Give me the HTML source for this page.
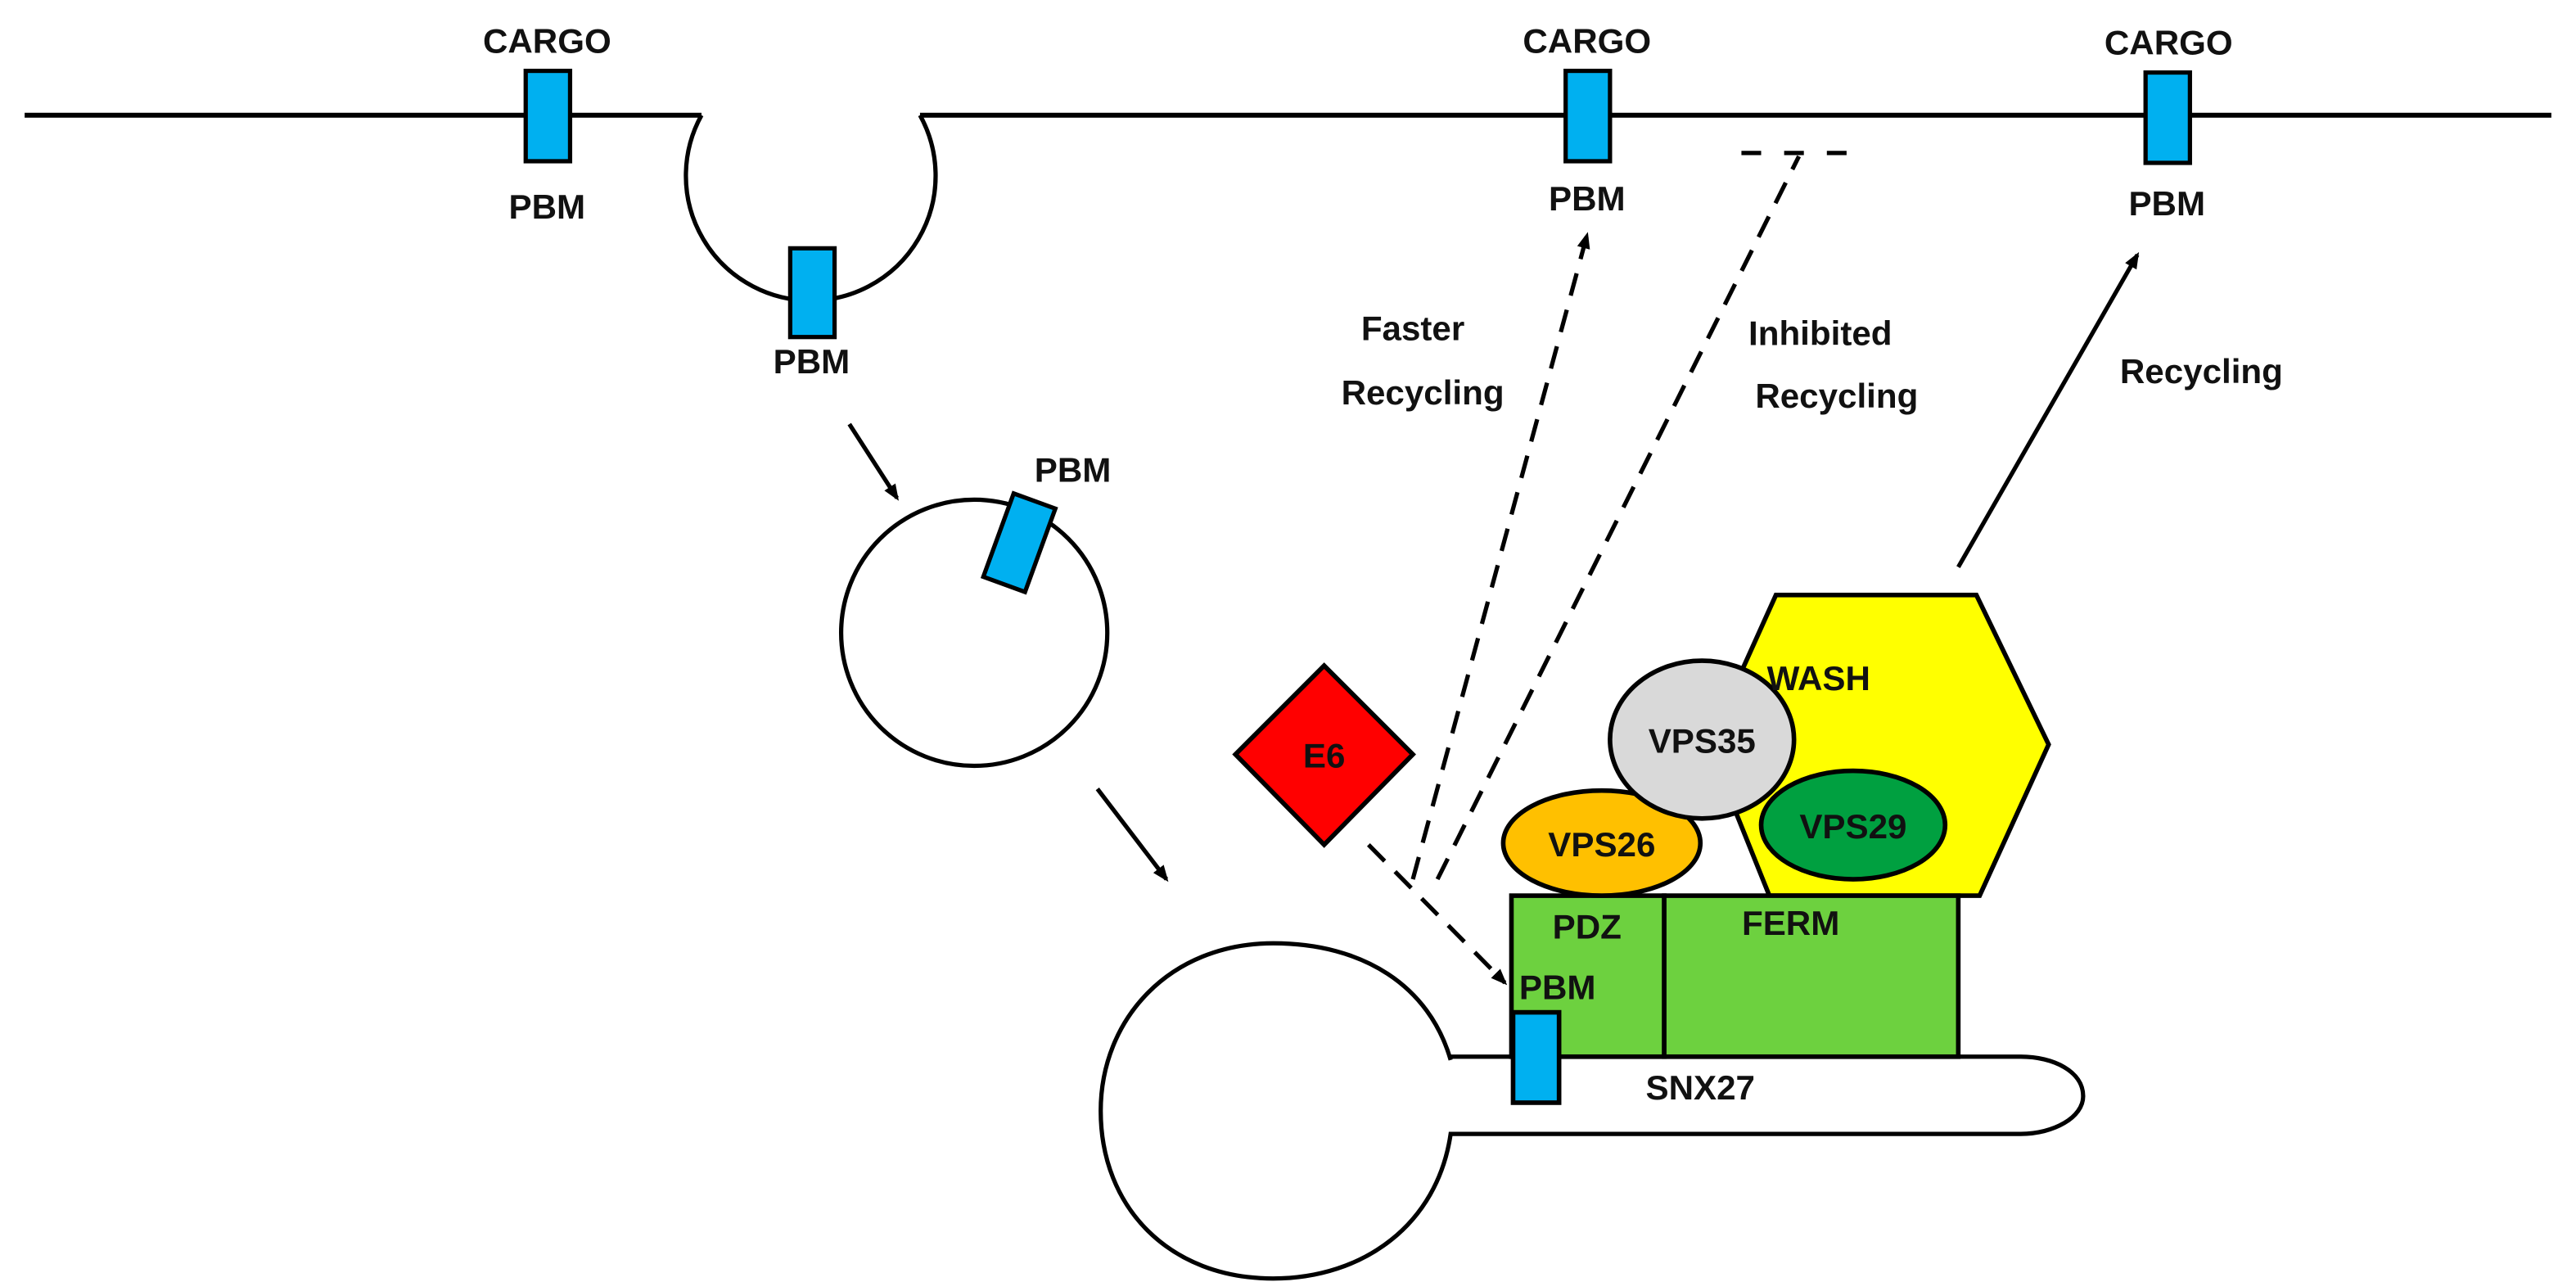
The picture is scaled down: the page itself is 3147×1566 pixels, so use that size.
<!DOCTYPE html>
<html><head><meta charset="utf-8"><style>
html,body{margin:0;padding:0;background:#fff;}
svg{display:block;}
text{font-family:"Liberation Sans",sans-serif;font-weight:bold;font-size:21px;fill:#111;text-anchor:middle;}
</style></head><body>
<svg width="3147" height="1566" viewBox="0 0 1568 780" xmlns="http://www.w3.org/2000/svg">
<defs>
<marker id="ah" markerWidth="10" markerHeight="10" refX="8" refY="5" orient="auto" markerUnits="userSpaceOnUse">
<path d="M0,1 L10,5 L0,9 z" fill="#000"/>
</marker>
</defs>
<g fill="none" stroke="#000" stroke-width="2.6">
<path d="M15,70 H427" stroke-width="3"/>
<path d="M560,70 H1553" stroke-width="3"/>
<path d="M427,70 A76,76 0 1 0 560,70"/>
<circle cx="593" cy="385" r="81"/>
<path d="M883,645 C870,600 830,574 775,574 C712,574 670,620 670,676 C670,735 712,778 775,778 C830,778 875,745 883,690 H1230 C1250,690 1268,680 1268,667 C1268,652 1250,643 1230,643 H883"/>
<line x1="517" y1="258" x2="546" y2="303" marker-end="url(#ah)"/>
<line x1="668" y1="480" x2="710" y2="535" marker-end="url(#ah)"/>
<line x1="1192" y1="345" x2="1301" y2="155" marker-end="url(#ah)"/>
<g stroke-dasharray="14,9">
<line x1="833" y1="514" x2="916" y2="598" marker-end="url(#ah)"/>
<line x1="860" y1="535" x2="966" y2="143" marker-end="url(#ah)"/>
<line x1="875" y1="535" x2="1095" y2="95"/>
<line x1="1060" y1="93" x2="1137" y2="93" stroke-dasharray="12,14"/>
</g>
</g>
<g fill="#00b0f0" stroke="#000" stroke-width="2.6">
<rect x="320" y="43" width="27" height="55"/>
<rect x="481" y="151" width="27" height="54"/>
<rect x="953" y="43" width="27" height="55"/>
<rect x="1306" y="44" width="27" height="55"/>
<rect x="607" y="303" width="27" height="54" transform="rotate(20 620 330)"/>
</g>
<g stroke="#000" stroke-width="2.8">
<polygon points="1081,362 1203,362 1247,453 1205,545 1077,545 1040,453" fill="#ffff00"/>
<rect x="920" y="545" width="93" height="98" fill="#6dd13f"/>
<rect x="1013" y="545" width="179" height="98" fill="#6dd13f"/>
<ellipse cx="975" cy="513" rx="60" ry="32" fill="#ffc000"/>
<ellipse cx="1036" cy="450" rx="56" ry="48" fill="#d9d9d9"/>
<ellipse cx="1128" cy="502" rx="56" ry="33" fill="#00a040"/>
<polygon points="806,405 860,459 806,514 752,459" fill="#ff0000"/>
<rect x="921" y="616" width="28" height="55" fill="#00b0f0"/>
</g>
<text x="333" y="32">CARGO</text>
<text x="333" y="133">PBM</text>
<text x="494" y="227">PBM</text>
<text x="653" y="293">PBM</text>
<text x="966" y="32">CARGO</text>
<text x="966" y="128">PBM</text>
<text x="1320" y="33">CARGO</text>
<text x="1319" y="131">PBM</text>
<text x="860" y="207">Faster</text>
<text x="866" y="246">Recycling</text>
<text x="1108" y="210">Inhibited</text>
<text x="1118" y="248">Recycling</text>
<text x="1340" y="233">Recycling</text>
<text x="1107" y="420">WASH</text>
<text x="1036" y="458">VPS35</text>
<text x="1128" y="510">VPS29</text>
<text x="975" y="521">VPS26</text>
<text x="806" y="467">E6</text>
<text x="966" y="571">PDZ</text>
<text x="1090" y="569">FERM</text>
<text x="948" y="608">PBM</text>
<text x="1035" y="669">SNX27</text>
</svg>
</body></html>
